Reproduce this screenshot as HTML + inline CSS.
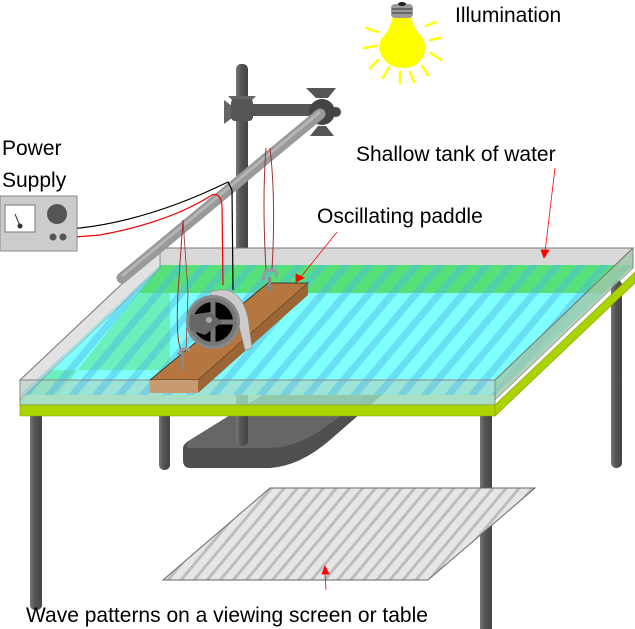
<!DOCTYPE html>
<html><head><meta charset="utf-8"><style>html,body{margin:0;padding:0;background:#fff}svg{display:block}text{font-family:"Liberation Sans",sans-serif;fill:#000}</style></head>
<body>
<svg width="635" height="629" viewBox="0 0 635 629" xmlns="http://www.w3.org/2000/svg">
<defs>
<pattern id="st" patternUnits="userSpaceOnUse" width="18" height="18" patternTransform="rotate(40)">
<rect width="18" height="18" fill="none"/><rect width="7" height="18" fill="#4db8e8" opacity="0.45"/>
</pattern>
<pattern id="sc" patternUnits="userSpaceOnUse" width="10" height="10" patternTransform="rotate(40)">
<rect width="10" height="10" fill="#e6e6e6"/><rect width="3" height="10" fill="#bdbdbd"/>
</pattern>
<linearGradient id="leg" x1="0" x2="1"><stop offset="0" stop-color="#777"/><stop offset=".4" stop-color="#555"/><stop offset="1" stop-color="#444"/></linearGradient>
</defs>

<!-- legs -->
<rect x="30" y="410" width="12" height="200" rx="5" fill="url(#leg)"/>
<rect x="480" y="410" width="12" height="222" fill="url(#leg)"/>
<rect x="611" y="280" width="11" height="188" rx="5" fill="url(#leg)"/>
<rect x="159" y="410" width="11" height="60" rx="5" fill="url(#leg)"/>

<!-- stand base -->
<path d="M290,378 L390,378 Q396,380 392,386 L330,440 Q300,466 270,468 L190,468 Q183,468 183,460 L183,448 Q183,444 190,440 Z" fill="#4f4f4f"/>
<path d="M290,378 L390,378 L335,420 Q300,448 270,448 L190,448 Q183,448 190,440 Z" fill="#666"/>
<!-- vertical rod -->
<rect x="236" y="64" width="12" height="382" rx="5" fill="url(#leg)"/>

<!-- screen -->
<polygon points="270,488 535,488 428,580 163,580" fill="url(#sc)" stroke="#666" stroke-width="1"/>

<!-- tank back wall -->
<polygon points="160,248 633,248 633,268 160,268" fill="#d9d9d9" stroke="#888" stroke-width="1"/>
<!-- water -->
<polygon points="160,265 633,265 495,395 20,395" fill="#80ffff"/>
<polygon points="160,265 633,265 612,285 145,285 " fill="#55e07a"/>
<polygon points="145,285 612,285 604,293 138,293" fill="#55e07a"/>
<polygon points="138,293 170,293 170,370 52,370 20,395 20,405 495,405 495,395 58,395" fill="#55e07a" opacity="0.5"/>
<polygon points="20,380 495,380 495,405 20,405" fill="#a8d8c8" opacity="0.7"/>
<polygon points="160,265 633,265 495,395 20,395" fill="url(#st)"/>
<!-- glass walls -->
<polygon points="20,380 160,248 160,268 20,400" fill="#cfcfcf" opacity="0.6" stroke="#888" stroke-width="0.8"/>
<polygon points="495,380 633,248 633,268 495,400" fill="#9fc8a8" opacity="0.8" stroke="#777" stroke-width="0.8"/>
<polygon points="160,248 633,248 495,380 20,380" fill="none" stroke="#777" stroke-width="1"/>
<polygon points="20,380 495,380 495,405 20,405" fill="none" stroke="#888" stroke-width="1"/>
<!-- green-yellow slab -->
<polygon points="20,405 495,405 495,416 20,416" fill="#aad400" stroke="#889900" stroke-width="0.6"/>
<polygon points="495,405 635,272 635,283 495,416" fill="#aad400" stroke="#889900" stroke-width="0.6"/>

<!-- diagonal rod & clamp -->
<rect x="236" y="104" width="90" height="12" fill="#555"/>
<path d="M224,100 L232,106 L232,118 L224,124 Z M228,96 L236,104 L248,104 L256,96 Z" fill="#666"/>
<rect x="231" y="99" width="22" height="22" rx="4" fill="#555"/>
<circle cx="322" cy="112" r="13" fill="#444"/>
<path d="M306,88 L316,98 L328,98 L336,88 Z M310,136 L318,126 L326,126 L334,136 Z" fill="#555"/>
<circle cx="336" cy="112" r="5" fill="#444"/>
<line x1="122" y1="278" x2="320" y2="114" stroke="#999" stroke-width="11" stroke-linecap="round"/>
<line x1="122" y1="276" x2="320" y2="112" stroke="#b5b5b5" stroke-width="3"/>

<!-- strings -->
<path d="M183,220 L178,292 Q175,355 185,352" fill="none" stroke="#a03030" stroke-width="1"/>
<path d="M183,220 L188,292 L186,352" fill="none" stroke="#a03030" stroke-width="0.8"/>
<path d="M266,148 Q262,200 266,270" fill="none" stroke="#a03030" stroke-width="1"/>
<path d="M270,148 Q276,200 272,270" fill="none" stroke="#a03030" stroke-width="1"/>
<!-- wires -->
<path d="M53,238 Q60,228 80,228 Q150,220 228,182 L232,190 L233,290" fill="none" stroke="#000" stroke-width="1.2"/>
<path d="M63,238 L100,235 Q170,222 212,195 Q220,192 222,205 L223,285" fill="none" stroke="#e00" stroke-width="1.2"/>

<!-- paddle -->
<polygon points="150,380 198,380 308,283 268,283" fill="#b5773f" stroke="#222" stroke-width="0.8"/>
<polygon points="150,380 198,380 198,393 150,393" fill="#c99a70"/>
<polygon points="198,380 308,283 308,295 198,393" fill="#9c6535"/>
<!-- hooks -->
<path d="M178,355 Q182,346 190,350" fill="none" stroke="#999" stroke-width="3"/>
<rect x="181" y="352" width="3" height="18" fill="#888"/>
<path d="M264,280 Q262,270 272,270 Q278,271 276,277" fill="none" stroke="#999" stroke-width="3"/>
<rect x="268" y="277" width="3" height="14" fill="#888"/>
<!-- motor -->
<path d="M210,292 Q240,282 248,318 L252,348 L245,350 L238,322 Q232,300 212,302 Z" fill="#ccc" stroke="#888" stroke-width="0.6"/>
<circle cx="213" cy="322" r="27" fill="#888"/>
<circle cx="213" cy="322" r="22" fill="#000"/>
<path d="M213,300 V344 M191,322 H235" stroke="#777" stroke-width="5"/>
<circle cx="213" cy="322" r="22" fill="none" stroke="#777" stroke-width="4"/>
<path d="M190,315 L210,312 L222,322 L205,335 L190,330 Z" fill="#666"/>
<circle cx="209" cy="320" r="3" fill="#aaa"/>

<!-- power supply -->
<rect x="0" y="196" width="77" height="55" fill="#ccc" stroke="#888"/>
<rect x="5" y="205" width="30" height="27" fill="#fff" stroke="#777"/>
<line x1="15" y1="214" x2="20" y2="226" stroke="#333"/>
<circle cx="20" cy="226" r="2.5" fill="#333"/>
<circle cx="57" cy="214" r="10" fill="#555"/>
<circle cx="53" cy="237" r="3.5" fill="#555"/>
<circle cx="63" cy="237" r="3.5" fill="#555"/>

<!-- bulb -->
<g stroke="#ff0" stroke-width="2.5" stroke-linecap="round" fill="none">
<line x1="366" y1="28" x2="378" y2="32"/><line x1="364" y1="48" x2="376" y2="46"/><line x1="370" y1="68" x2="378" y2="60"/>
<line x1="383" y1="78" x2="389" y2="67"/><line x1="400" y1="83" x2="400" y2="72"/><line x1="414" y1="82" x2="410" y2="72"/>
<line x1="428" y1="75" x2="422" y2="66"/><line x1="441" y1="60" x2="431" y2="53"/><line x1="440" y1="38" x2="430" y2="40"/><line x1="436" y1="22" x2="426" y2="26"/>
</g>
<path d="M393,16 Q390,30 382,38 Q378,45 380,52 Q386,68 403,68 Q420,68 425,52 Q427,44 422,37 Q414,30 411,16 Z" fill="#ff0"/>
<rect x="391" y="4" width="22" height="14" rx="4" fill="#999"/>
<path d="M392,9 H412 M392,13 H412" stroke="#555" stroke-width="1.5"/>
<ellipse cx="402" cy="4" rx="4" ry="2" fill="#222"/>

<!-- pointer lines -->
<g stroke="#f00" stroke-width="0.8" fill="#f00">
<line x1="555" y1="168" x2="545" y2="252"/><polygon points="541,250 549,250 544,258"/>
<line x1="337" y1="232" x2="300" y2="278"/><polygon points="296,274 304,278 296,282"/>
<line x1="326" y1="590" x2="325" y2="572"/><polygon points="322,574 329,574 325,566"/>
</g>

<!-- labels -->
<text x="455" y="22" font-size="21">Illumination</text>
<text x="2" y="155" font-size="21">Power</text>
<text x="2" y="187" font-size="21">Supply</text>
<text x="356" y="161" font-size="21">Shallow tank of water</text>
<text x="317" y="223" font-size="21">Oscillating paddle</text>
<text x="26" y="622" font-size="21">Wave patterns on a viewing screen or table</text>
</svg>
</body></html>
